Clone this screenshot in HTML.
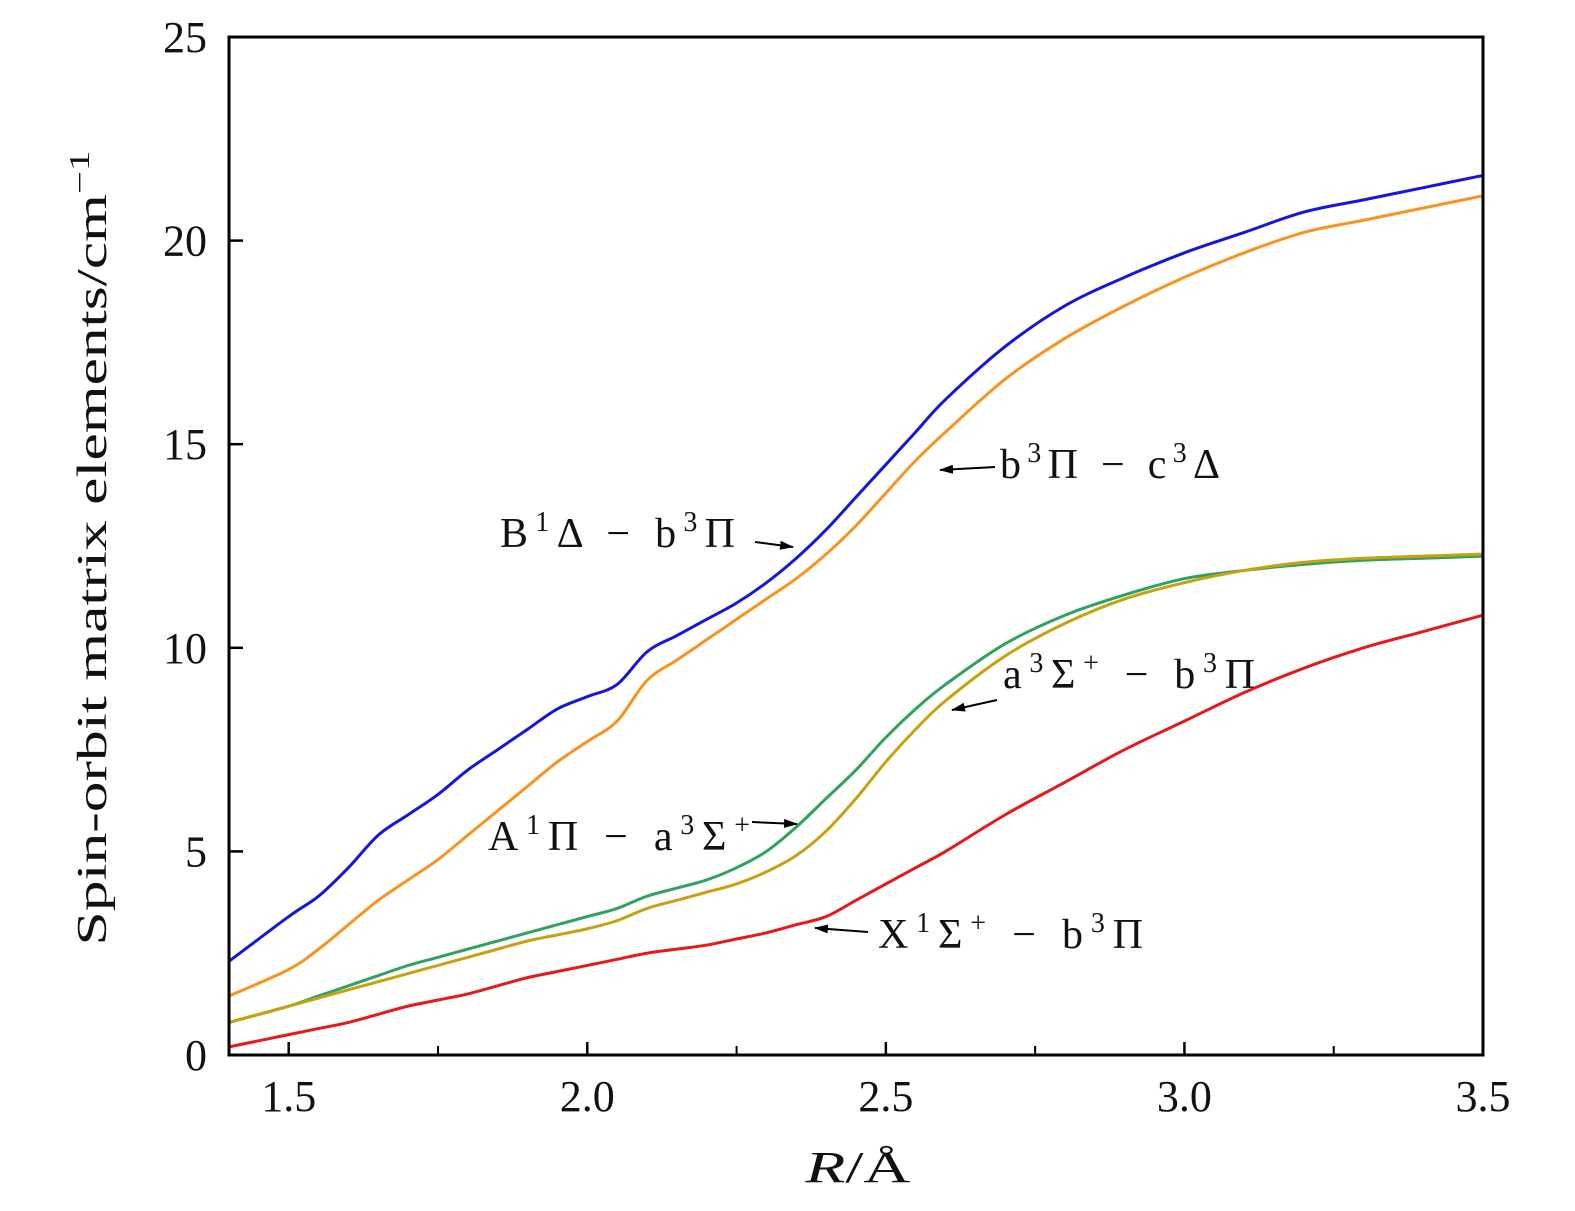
<!DOCTYPE html>
<html><head><meta charset="utf-8"><style>
body{margin:0;background:#fff}
svg{display:block}
text{font-family:"Liberation Serif",serif;fill:#111}
</style></head><body>
<svg id="chart" width="1575" height="1211">
<defs><marker id="ah" markerWidth="14" markerHeight="9" refX="13" refY="4.5" orient="auto" markerUnits="userSpaceOnUse" viewBox="0 0 14 9"><path d="M0,0 L14,4.5 L0,9 Z" fill="#000"/></marker>
</defs>
<g id="curves"></g>
<rect x="229" y="37" width="1254" height="1018" fill="none" stroke="#000" stroke-width="3"/>
<g id="axes"></g>
<text x="858" y="1182" font-size="44" text-anchor="middle" textLength="105" lengthAdjust="spacingAndGlyphs"><tspan font-style="italic">R</tspan>/Å</text>
<text transform="translate(106,548) rotate(-90)" font-size="42" text-anchor="middle" textLength="795" lengthAdjust="spacingAndGlyphs">Spin-orbit matrix elements/cm<tspan dy="-17" font-size="28">−1</tspan></text>
<g font-size="42">
<text x="500" y="547" textLength="235" lengthAdjust="spacing">B<tspan dy="-16" font-size="28">1</tspan><tspan dy="16">Δ − b</tspan><tspan dy="-16" font-size="28">3</tspan><tspan dy="16">Π</tspan></text>
<text x="1000" y="478" textLength="220" lengthAdjust="spacing">b<tspan dy="-16" font-size="28">3</tspan><tspan dy="16">Π − c</tspan><tspan dy="-16" font-size="28">3</tspan><tspan dy="16">Δ</tspan></text>
<text x="1003" y="688" textLength="252" lengthAdjust="spacing">a<tspan dy="-16" font-size="28">3</tspan><tspan dy="16">Σ</tspan><tspan dy="-16" font-size="28">+</tspan><tspan dy="16"> − b</tspan><tspan dy="-16" font-size="28">3</tspan><tspan dy="16">Π</tspan></text>
<text x="488" y="850" textLength="262" lengthAdjust="spacing">A<tspan dy="-16" font-size="28">1</tspan><tspan dy="16">Π − a</tspan><tspan dy="-16" font-size="28">3</tspan><tspan dy="16">Σ</tspan><tspan dy="-16" font-size="28">+</tspan></text>
<text x="878" y="948" textLength="265" lengthAdjust="spacing">X<tspan dy="-16" font-size="28">1</tspan><tspan dy="16">Σ</tspan><tspan dy="-16" font-size="28">+</tspan><tspan dy="16"> − b</tspan><tspan dy="-16" font-size="28">3</tspan><tspan dy="16">Π</tspan></text>
</g>
<g stroke="#000" stroke-width="2" marker-end="url(#ah)">
<line x1="755" y1="542" x2="793" y2="547"/>
<line x1="995" y1="467" x2="940" y2="470"/>
<line x1="997" y1="700" x2="952" y2="710"/>
<line x1="752" y1="822" x2="797" y2="824"/>
<line x1="868" y1="932" x2="815" y2="928"/>
</g>
</svg>
<script>
const xTicks=[1.5,2.0,2.5,3.0,3.5];
const xTickLabels=["1.5","2.0","2.5","3.0","3.5"];
const xMinor=[1.75,2.25,2.75,3.25];
const yTicks=[0,5,10,15,20,25];
const R=[1.4,1.5,1.55,1.6,1.65,1.7,1.75,1.8,1.85,1.9,1.95,2.0,2.05,2.1,2.15,2.2,2.25,2.3,2.35,2.4,2.45,2.5,2.55,2.6,2.7,2.8,2.9,3.0,3.1,3.2,3.3,3.4,3.5];
const blue=[2.3,3.4,3.9,4.6,5.4,5.9,6.4,7.0,7.5,8.0,8.5,8.8,9.1,9.9,10.3,10.7,11.1,11.6,12.2,12.9,13.7,14.5,15.3,16.1,17.4,18.4,19.1,19.7,20.2,20.7,21.0,21.3,21.6];
const orange=[1.45,2.1,2.6,3.2,3.8,4.3,4.8,5.4,6.0,6.6,7.2,7.7,8.2,9.2,9.7,10.2,10.7,11.2,11.7,12.3,13.0,13.8,14.6,15.3,16.6,17.6,18.4,19.1,19.7,20.2,20.5,20.8,21.1];
const green=[0.8,1.2,1.45,1.7,1.95,2.2,2.4,2.6,2.8,3.0,3.2,3.4,3.6,3.9,4.1,4.3,4.6,5.0,5.6,6.3,7.0,7.8,8.5,9.1,10.1,10.8,11.3,11.7,11.9,12.05,12.15,12.2,12.25];
const gold=[0.8,1.2,1.4,1.6,1.8,2.0,2.2,2.4,2.6,2.8,2.95,3.1,3.3,3.6,3.8,4.0,4.2,4.5,4.9,5.5,6.3,7.2,8.0,8.7,9.8,10.6,11.2,11.6,11.9,12.1,12.2,12.25,12.3];
const red=[0.2,0.5,0.65,0.8,1.0,1.2,1.35,1.5,1.7,1.9,2.05,2.2,2.35,2.5,2.6,2.7,2.85,3.0,3.2,3.4,3.8,4.2,4.6,5.0,5.9,6.7,7.5,8.2,8.9,9.5,10.0,10.4,10.8];
const xs=v=>229+(v-1.4)/2.1*1254;
const ys=v=>1055-v/25*1018;
const NS="http://www.w3.org/2000/svg";
function path(vals){
  const p=R.map((r,i)=>[xs(r),ys(vals[i])]);
  let d="M"+p[0][0]+","+p[0][1];
  for(let i=0;i<p.length-1;i++){
    const a=p[i-1]||p[i],b=p[i],c=p[i+1],e=p[i+2]||c;
    d+=" C"+(b[0]+(c[0]-a[0])/6)+","+(b[1]+(c[1]-a[1])/6)+" "+(c[0]-(e[0]-b[0])/6)+","+(c[1]-(e[1]-b[1])/6)+" "+c[0]+","+c[1];
  }
  return d;
}
const cg=document.getElementById("curves");
[[blue,"#1515e0","curve-B1Delta-b3Pi"],[orange,"#f7931e","curve-b3Pi-c3Delta"],[green,"#2ea35f","curve-A1Pi-a3Sigma"],[gold,"#c9a010","curve-a3Sigma-b3Pi"],[red,"#e81818","curve-X1Sigma-b3Pi"]].forEach(([v,c,n])=>{
  const el=document.createElementNS(NS,"path");
  el.setAttribute("d",path(v));el.setAttribute("fill","none");el.setAttribute("stroke",c);el.setAttribute("stroke-width","3");
  
  
  cg.appendChild(el);
});
const ag=document.getElementById("axes");
xTicks.forEach((t,i)=>{
  const l=document.createElementNS(NS,"line");
  l.setAttribute("x1",xs(t));l.setAttribute("x2",xs(t));l.setAttribute("y1",1055);l.setAttribute("y2",1042);l.setAttribute("stroke","#000");l.setAttribute("stroke-width","2.5");
  
  
  ag.appendChild(l);
  const tx=document.createElementNS(NS,"text");
  tx.setAttribute("x",xs(t));tx.setAttribute("y",1111);tx.setAttribute("font-size","44");tx.setAttribute("text-anchor","middle");tx.textContent=xTickLabels[i];
  
  
  ag.appendChild(tx);
});
xMinor.forEach(t=>{
  const l=document.createElementNS(NS,"line");
  l.setAttribute("x1",xs(t));l.setAttribute("x2",xs(t));l.setAttribute("y1",1055);l.setAttribute("y2",1046);l.setAttribute("stroke","#000");l.setAttribute("stroke-width","2");
  
  
  ag.appendChild(l);
});
yTicks.forEach(t=>{
  const l=document.createElementNS(NS,"line");
  l.setAttribute("x1",229);l.setAttribute("x2",243);l.setAttribute("y1",ys(t));l.setAttribute("y2",ys(t));l.setAttribute("stroke","#000");l.setAttribute("stroke-width","2.5");
  
  
  ag.appendChild(l);
  const tx=document.createElementNS(NS,"text");
  tx.setAttribute("x",207);tx.setAttribute("y",ys(t)+15);tx.setAttribute("font-size","44");tx.setAttribute("text-anchor","end");tx.textContent=t;
  
  
  ag.appendChild(tx);
});
</script>
</body></html>
